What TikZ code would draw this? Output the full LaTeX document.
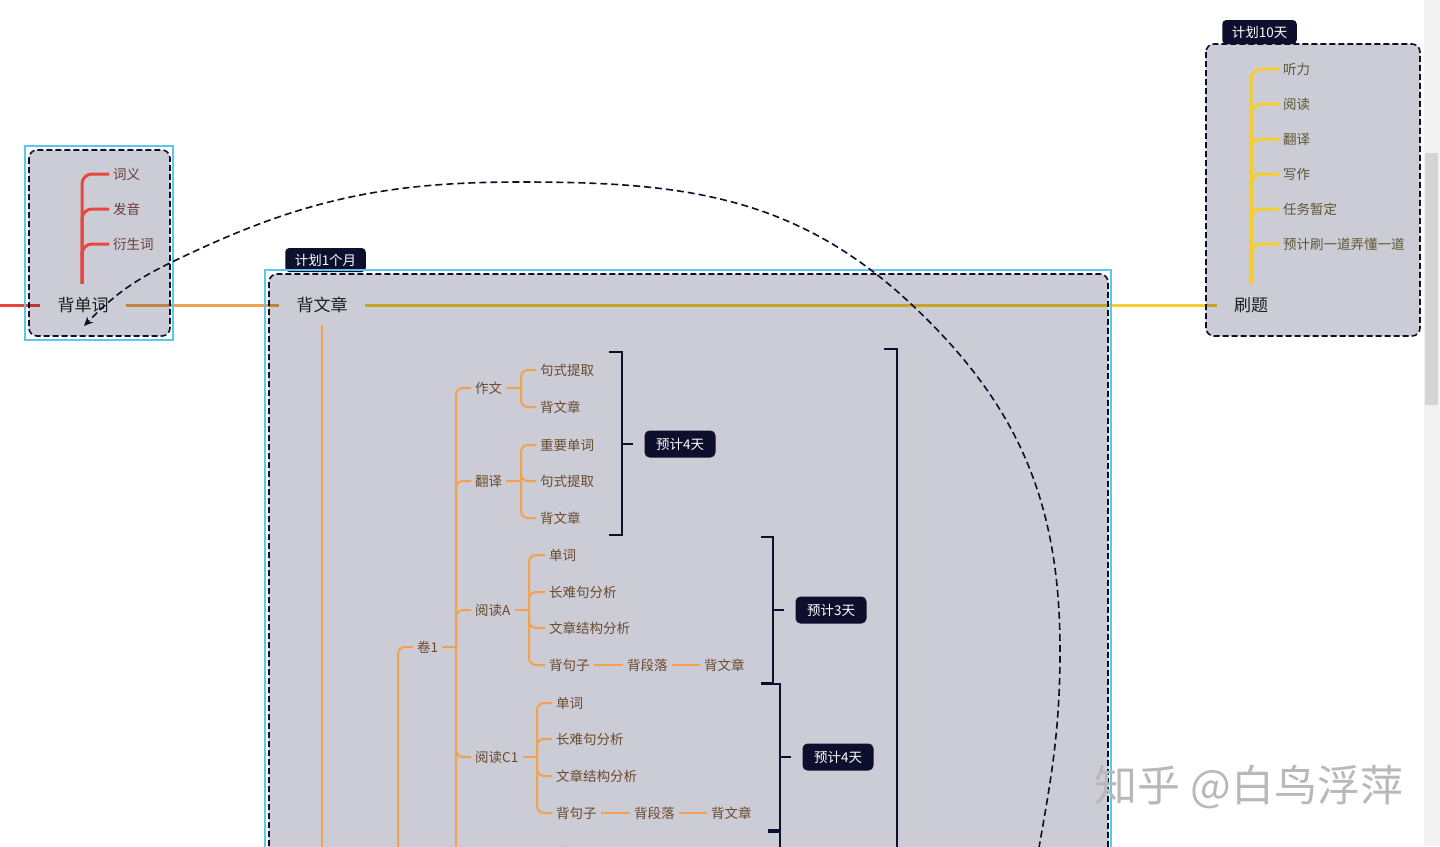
\documentclass[tikz,border=0pt]{standalone}
\usepackage{fontspec}
\setmainfont{Noto Sans CJK SC}
\usetikzlibrary{arrows.meta,calc}

\definecolor{boxgray}{HTML}{CBCCD6}
\definecolor{navy}{HTML}{0E0F2C}
\definecolor{sky}{HTML}{5BC6EE}
\definecolor{redline}{HTML}{E8473D}
\definecolor{orgline}{HTML}{F2A24E}
\definecolor{yelline}{HTML}{F4CF2C}
\definecolor{redtxt}{HTML}{6A3A38}
\definecolor{orgtxt}{HTML}{6A4A2E}
\definecolor{yeltxt}{HTML}{5E5632}

\newcommand{\labsz}{\fontsize{13.5}{16}\selectfont}
\newcommand{\topsz}{\fontsize{17}{20}\selectfont}

\tikzstyle{topic}=[inner xsep=17pt,inner ysep=4pt,text=black!85,font=\topsz]
\tikzstyle{olab}=[anchor=west,inner sep=4pt,text=orgtxt,font=\labsz]
\tikzstyle{rlab}=[anchor=west,inner sep=4pt,text=redtxt,font=\labsz]
\tikzstyle{ylab}=[anchor=west,inner sep=4pt,text=yeltxt,font=\labsz]
\tikzstyle{mainline}=[line width=3pt]
\tikzstyle{otree}=[draw=orgline,line width=2pt,rounded corners=7pt]
\tikzstyle{rtree}=[draw=redline,line width=3pt,rounded corners=10pt]
\tikzstyle{ytree}=[draw=yelline,line width=3pt,rounded corners=10pt]
\tikzstyle{brk}=[draw=navy,line width=2pt]
\tikzstyle{tag}=[fill=navy,text=white,rounded corners=5pt,minimum width=71pt,minimum height=27pt,inner sep=0pt,font=\labsz]
\tikzstyle{plan}=[fill=navy,text=white,rounded corners=4pt,minimum height=24pt,inner xsep=9.5pt,inner ysep=0pt,font=\labsz]
\tikzstyle{frame}=[draw=sky,line width=2pt]
\tikzstyle{dashbox}=[draw=navy,line width=1.6pt,dash pattern=on 6pt off 3pt,rounded corners=8pt]
\tikzstyle{arcline}=[draw=navy,line width=1.6pt,dash pattern=on 7pt off 4pt,-{Stealth[length=9pt,width=8pt]}]

\begin{document}
\begin{tikzpicture}[x=1pt,y=1pt]
  \useasboundingbox (0,0) rectangle (1440,-846);
  \clip (0,0) rectangle (1440,-846);
  \fill[white] (0,0) rectangle (1440,-846);

  % main topics
  \node[topic] (bdc) at (83,-305) {背单词};
  \node[topic] (bwz) at (322,-305) {背文章};
  \node[topic] (st) at (1251,-305) {刷题};
  \coordinate (lft) at (0,-305);

  \draw[mainline,redline] (lft) -- (bdc.west);
  \draw[mainline,orgline] (bdc.east) -- (bwz.west);
  \draw[mainline,yelline] (bwz.east) -- (st.west);

  % plan tags
  \node[plan] (plan1) at (325.5,-260) {计划1个月};
  \node[plan] (plan2) at (1259.5,-32) {计划10天};

  % boxes
  \begin{scope}[blend mode=multiply]
    \fill[boxgray,rounded corners=8pt] (29,-150) rectangle (170,-336);
    \fill[boxgray,rounded corners=8pt] (269,-274) rectangle (1108,-900);
    \fill[boxgray,rounded corners=8pt] (1206,-44) rectangle (1420,-336);
  \end{scope}
  \draw[frame] (25,-146) rectangle (173,-340);
  \draw[frame] (265,-270) rectangle (1111,-900);
  \draw[dashbox] (29,-150) rectangle (170,-336);
  \draw[dashbox] (269,-274) rectangle (1108,-900);
  \draw[dashbox] (1206,-44) rectangle (1420,-336);

  % 背单词
  \coordinate (bdcr) at ($(bdc.north)+(-1,9)$);
  \node[rlab] (cy) at (109,-174) {词义};
  \node[rlab] (fy) at (109,-209) {发音};
  \node[rlab] (ysc) at (109,-244) {衍生词};
  \foreach \c in {cy,fy,ysc}
    \draw[rtree] (bdcr) |- (\c.west);

  % 刷题
  \coordinate (str) at ($(st.north)+(0,9)$);
  \node[ylab] (tl) at (1279,-69) {听力};
  \node[ylab] (yd) at (1279,-104) {阅读};
  \node[ylab] (fyy) at (1279,-139) {翻译};
  \node[ylab] (xz) at (1279,-174) {写作};
  \node[ylab] (rw) at (1279,-209) {任务暂定};
  \node[ylab] (yj) at (1279,-244) {预计刷一道弄懂一道};
  \foreach \c in {tl,yd,fyy,xz,rw,yj}
    \draw[ytree] (str) |- (\c.west);

  % 背文章
  \coordinate (bwzb) at ($(bwz.south)+(0,-8)$);
  \coordinate (bwzend) at (322,-900);
  \draw[otree] (bwzb) -- (bwzend);

  \node[olab] (juan1) at (413,-647) {卷1};
  \coordinate (j0) at (398,-900);
  \draw[otree] (j0) |- (juan1.west);
  \coordinate (j1f) at (456,-647);
  \coordinate (j1end) at (456,-900);
  \draw[otree] (juan1.east) -- (j1f);
  \draw[otree] (j1f) -- (j1end);

  \node[olab] (zuowen) at (471,-388) {作文};
  \node[olab] (fanyi) at (471,-481) {翻译};
  \node[olab] (ydA) at (471,-610) {阅读A};
  \node[olab] (ydC) at (471,-757) {阅读C1};
  \foreach \c in {zuowen,fanyi,ydA,ydC}
    \draw[otree] (j1f) |- (\c.west);

  % 作文
  \coordinate (zf) at (521,-388);
  \node[olab] (zw1) at (536,-370) {句式提取};
  \node[olab] (zw2) at (536,-407) {背文章};
  \draw[otree] (zuowen.east) -- (zf);
  \foreach \c in {zw1,zw2}
    \draw[otree] (zf) |- (\c.west);

  % 翻译
  \coordinate (ff) at (521,-481);
  \node[olab] (fy1) at (536,-445) {重要单词};
  \node[olab] (fy2) at (536,-481) {句式提取};
  \node[olab] (fy3) at (536,-518) {背文章};
  \draw[otree] (fanyi.east) -- (ff);
  \foreach \c in {fy1,fy2,fy3}
    \draw[otree] (ff) |- (\c.west);

  % 阅读A
  \coordinate (af) at (529,-610);
  \node[olab] (ya1) at (545,-555) {单词};
  \node[olab] (ya2) at (545,-592) {长难句分析};
  \node[olab] (ya3) at (545,-628) {文章结构分析};
  \node[olab] (ya4) at (545,-665) {背句子};
  \node[olab] (ya5) at (623,-665) {背段落};
  \node[olab] (ya6) at (700,-665) {背文章};
  \draw[otree] (ydA.east) -- (af);
  \foreach \c in {ya1,ya2,ya3,ya4}
    \draw[otree] (af) |- (\c.west);
  \draw[otree] (ya4.east) -- (ya5.west);
  \draw[otree] (ya5.east) -- (ya6.west);

  % 阅读C1
  \coordinate (cf) at (537,-757);
  \node[olab] (yc1) at (552,-703) {单词};
  \node[olab] (yc2) at (552,-739) {长难句分析};
  \node[olab] (yc3) at (552,-776) {文章结构分析};
  \node[olab] (yc4) at (552,-813) {背句子};
  \node[olab] (yc5) at (630,-813) {背段落};
  \node[olab] (yc6) at (707,-813) {背文章};
  \draw[otree] (ydC.east) -- (cf);
  \foreach \c in {yc1,yc2,yc3,yc4}
    \draw[otree] (cf) |- (\c.west);
  \draw[otree] (yc4.east) -- (yc5.west);
  \draw[otree] (yc5.east) -- (yc6.west);
  \node[olab] (yn1) at (552,-853) {单词};

  % estimates
  \node[tag] (ta) at (680,-444) {预计4天};
  \node[tag] (tb) at (831,-610) {预计3天};
  \node[tag] (tc) at (838,-757) {预计4天};
  \draw[brk] (609,-352) -| (622,-535) -- (609,-535);
  \draw[brk] (ta.west) ++(-11,0) -- ++(-12,0);
  \draw[brk] (761,-537) -| (773,-683) -- (761,-683);
  \draw[brk] (tb.west) ++(-11,0) -- ++(-12,0);
  \draw[brk] (761,-684) -| (780,-831) -- (768,-831);
  \draw[brk,line width=3.5pt] (768,-831) -- (780,-831);
  \draw[brk] (768,-832) -| (780,-900);
  \draw[brk] (tc.west) ++(-11,0) -- ++(-12,0);
  \draw[brk] (884,-349) -| (897,-900);

  % back arrow
  \coordinate (arcS) at (1035,-870);
  \coordinate (arcE) at (84,-326);
  \draw[arcline] (arcS) to[out=80,in=-90] (1060,-650)
    to[out=90,in=-43] (910,-303) to[out=137,in=0] (520,-182)
    to[out=180,in=26] (170,-263) to[out=206,in=46] (arcE);

  % scrollbar and mark
  \fill[black!5] (1424,0) rectangle (1440,-846);
  \fill[black!17] (1425,-153) rectangle (1438,-405);
  \node[text=black!28,font=\fontsize{43}{47}\selectfont] (wm) at (1249,-787) {知乎 @白鸟浮萍};
\end{tikzpicture}
\end{document}
